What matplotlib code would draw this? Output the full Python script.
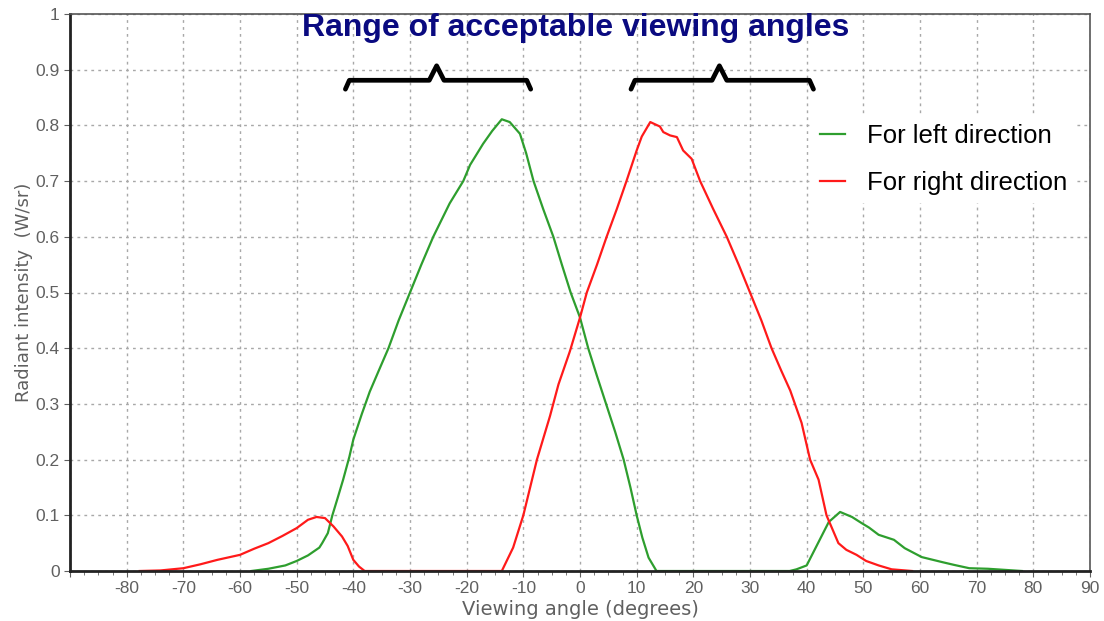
import matplotlib.pyplot as plt
import numpy as np
from matplotlib.ticker import MultipleLocator

plt.rcParams['font.family'] = ['Liberation Sans', 'DejaVu Sans']

# green curve: left direction
left_x = [-58, -55, -52, -50, -48, -46, -45.5, -44.5, -43.7, -42.8, -41.8, -40.7, -40,
          -38.5, -37.1, -35.5, -33.8, -32, -30, -28, -25.9, -23, -20.6, -19.4, -17.1,
          -15.5, -13.8, -12.4, -10.6, -9.5, -8.2, -6.5, -4.7, -3.2, -1.65, 0, 1.45, 3.0,
          4.6, 6.2, 7.7, 8.9, 10, 11, 12.1, 13.5, 37, 38.2, 40, 42, 43.9, 45.9, 48,
          49.7, 51, 52.7, 55.4, 57.3, 60.3, 63.9, 66, 68.7, 72, 75, 78]
left_y = [0, 0.004, 0.01, 0.018, 0.028, 0.042, 0.05, 0.068, 0.1, 0.13, 0.164, 0.205, 0.236,
          0.282, 0.322, 0.36, 0.4, 0.45, 0.5, 0.55, 0.6, 0.66, 0.7, 0.729, 0.767,
          0.79, 0.811, 0.806, 0.785, 0.75, 0.7, 0.65, 0.6, 0.55, 0.5, 0.455, 0.4, 0.35,
          0.3, 0.25, 0.2, 0.15, 0.1, 0.06, 0.024, 0, 0, 0.003, 0.01, 0.05, 0.088, 0.106, 0.097,
          0.086, 0.078, 0.065, 0.056, 0.041, 0.025, 0.016, 0.011, 0.005, 0.004, 0.002, 0]

# red curve: right direction
right_x = [-77.7, -74, -70, -67, -64, -60, -57.5, -55, -52.5, -50, -48, -46.5, -45,
           -43.5, -42, -41, -40, -39, -38, -13.8, -11.8, -10, -7.6, -5.3, -3.8, -1.8,
           0, 1.2, 3.0, 4.7, 6.5, 8.2, 10, 10.9, 12.4, 14.1, 14.7, 15.9, 17.1,
           18.2, 19.7, 21.2, 23.5, 25.9, 28, 30, 32, 33.8, 35.5, 37.1, 39.1, 40.6,
           42.1, 43.5, 45.6, 47, 48.8, 50.5, 52.7, 55, 58.6]
right_y = [0, 0.001, 0.005, 0.012, 0.02, 0.029, 0.04, 0.05, 0.063, 0.077, 0.092, 0.097, 0.095,
           0.08, 0.062, 0.045, 0.02, 0.008, 0, 0, 0.042, 0.1, 0.2, 0.278, 0.335, 0.394,
           0.455, 0.5, 0.55, 0.6, 0.65, 0.7, 0.755, 0.78, 0.806, 0.798, 0.788, 0.782, 0.779,
           0.755, 0.74, 0.7, 0.65, 0.6, 0.55, 0.5, 0.45, 0.4, 0.36, 0.324, 0.266, 0.2,
           0.164, 0.1, 0.05, 0.038, 0.029, 0.018, 0.01, 0.003, 0]

# braces above the acceptable ranges (start, peak, end in degrees)
brace_ranges = [(-41.4, -25.3, -8.7), (9.0, 24.6, 41.2)]
brace_y = 0.881
brace_peak = 0.907
brace_end = 0.865

fig = plt.figure(figsize=(11.04, 6.21), dpi=100)
ax = fig.add_axes([70 / 1104, 50 / 621, 1020 / 1104, 557 / 621])

ax.plot(left_x, left_y, color='#2e9e2e', lw=1.6, label='For left direction')
ax.plot(right_x, right_y, color='#ff1a1a', lw=1.6, label='For right direction')

for a, p, b in brace_ranges:
    bx = [a, a + 0.7, p - 1.3, p, p + 1.3, b - 0.7, b]
    by = [brace_end, brace_y, brace_y, brace_peak, brace_y, brace_y, brace_end]
    ax.plot(bx, by, color='black', lw=3.4, solid_joinstyle='round',
            solid_capstyle='round')

ax.set_xlim(-90, 90)
ax.set_ylim(0, 1)
xt = np.arange(-90, 91, 10)
ax.set_xticks(xt)
ax.set_xticklabels(['' if v == -90 else str(v) for v in xt])
ax.xaxis.set_minor_locator(MultipleLocator(2.5))
yt = np.round(np.arange(0, 1.01, 0.1), 1)
ax.set_yticks(yt)
ax.set_yticklabels(['0' if v == 0 else ('1' if v == 1 else f'{v:g}') for v in yt])

ax.grid(True, color='#a8a8a8', linestyle=(0, (2, 3)), lw=1)
ax.tick_params(axis='both', which='major', labelsize=12.5, colors='#606060',
               length=4, direction='out')
ax.tick_params(axis='x', which='minor', length=3, color='#606060')
ax.tick_params(axis='x', which='major', pad=3)
for side in ['left', 'bottom']:
    ax.spines[side].set_color('#222222')
    ax.spines[side].set_linewidth(2)
for side in ['top', 'right']:
    ax.spines[side].set_color('#555555')
    ax.spines[side].set_linewidth(1.2)

ax.set_xlabel('Viewing angle (degrees)', fontsize=14, color='#606060', labelpad=3,
              family='DejaVu Sans')
ax.set_ylabel('Radiant intensity  (W/sr)', fontsize=13, color='#606060', labelpad=2,
              family='DejaVu Sans')

ax.text(-0.7, 0.975, 'Range of acceptable viewing angles', ha='center', va='center',
        fontsize=23, fontweight='bold', color='#0a0a80')

leg = ax.legend(loc='upper right', bbox_to_anchor=(0.998, 0.84), fontsize=18.5,
                frameon=True, framealpha=1, facecolor='white', edgecolor='none',
                handlelength=1.0, handletextpad=0.85, borderpad=0.3, labelspacing=0.9,
                fancybox=False)

fig.savefig('out.png', dpi=100)
